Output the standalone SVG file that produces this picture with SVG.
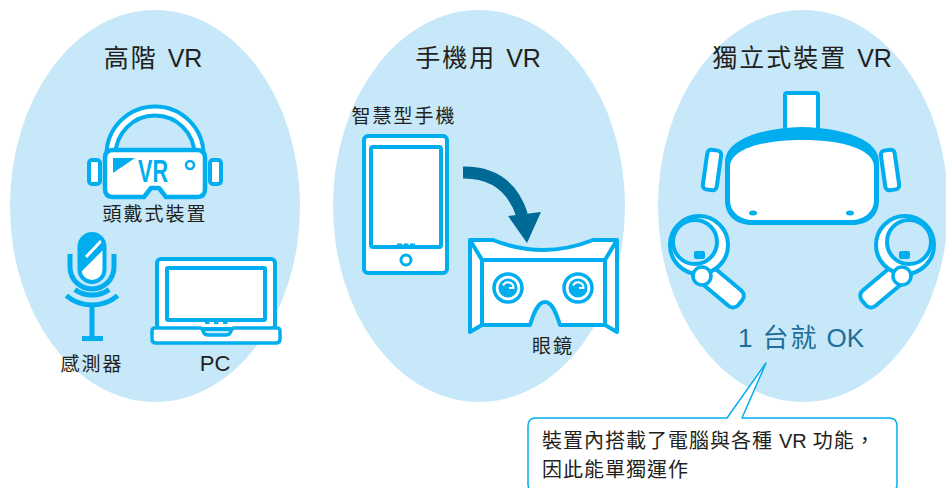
<svg xmlns="http://www.w3.org/2000/svg" width="946" height="488" viewBox="0 0 946 488">
  <style>
    .bg { fill: #C6E8F8; }
    .ln { fill: #FFFFFF; stroke: #00AEEF; stroke-width: 4; stroke-linejoin: round; }
    .nf { fill: none; stroke: #00AEEF; stroke-width: 4; stroke-linecap: butt; stroke-linejoin: round; }
    .bl { fill: #00AEEF; }
    .title { font-family: "Liberation Sans", "Noto Sans CJK TC", sans-serif; font-size: 25px; fill: #231F20; text-anchor: middle; }
    .lbl { font-family: "Liberation Sans", "Noto Sans CJK TC", sans-serif; font-size: 19px; fill: #231F20; text-anchor: middle; }
    .note { font-family: "Liberation Sans", "Noto Sans CJK TC", sans-serif; font-size: 20px; fill: #231F20; }
    .cjk { letter-spacing: 2px; }
    .cjk1 { letter-spacing: 1px; }
  </style>
  <defs>
    <clipPath id="micClip">
      <rect x="79.5" y="234" width="25" height="48" rx="12.5"/>
    </clipPath>
    <g id="controller">
      <!-- handle -->
      <rect x="689" y="274" width="58" height="20" rx="7" class="ln" transform="rotate(40 718 284)"/>
      <!-- tracking ring -->
      <circle cx="699" cy="245" r="29" class="ln"/>
      <circle cx="695" cy="242" r="22" class="nf" style="fill:#C6E8F8"/>
      <rect x="694" y="251" width="11" height="8" rx="2" class="bl"/>
      <circle cx="702" cy="276" r="9" class="ln" style="stroke-width:3.5"/>
    </g>
  </defs>

  <!-- background ovals -->
  <g id="ovals">
    <ellipse class="bg" cx="155" cy="206" rx="145" ry="196"/>
    <ellipse class="bg" cx="479" cy="206" rx="146" ry="196"/>
    <ellipse class="bg" cx="803" cy="206" rx="145" ry="196"/>
  </g>

  <!-- high-end VR -->
  <g id="high-end">
    <text class="title" x="153" y="67"><tspan class="cjk">高階</tspan><tspan dx="10">VR</tspan></text>
    <g id="headset">
      <path d="M111,162 V155 A44,44 0 0 1 199,155 V162" fill="none" stroke="#00AEEF" stroke-width="13"/>
      <path d="M111,162 V155 A44,44 0 0 1 199,155 V162" fill="none" stroke="#FFFFFF" stroke-width="5"/>
      <rect x="89" y="160" width="11" height="24" rx="3" class="ln"/>
      <rect x="210" y="160" width="11" height="24" rx="3" class="ln"/>
      <path d="M113,150 H197 Q205,150 205,158 V189 Q205,197 197,197 H166 L159,188 H151 L144,197 H113 Q105,197 105,189 V158 Q105,150 113,150 Z" class="ln" style="stroke-width:4.5"/>
      <polygon points="113,158 135,158 113,173" class="bl"/>
      <text x="138" y="182" textLength="30" lengthAdjust="spacingAndGlyphs" font-family="Liberation Sans, sans-serif" font-weight="bold" font-size="32" fill="#00AEEF">VR</text>
      <circle cx="190" cy="165" r="4" fill="none" stroke="#00AEEF" stroke-width="2.5"/>
      <text class="lbl cjk" x="155" y="221">頭戴式裝置</text>
    </g>
    <g id="sensor">
      <rect x="79.5" y="234" width="25" height="48" rx="12.5" fill="#FFFFFF"/>
      <g clip-path="url(#micClip)">
        <polygon points="79,232 106,232 106,247 79,274" class="bl"/>
        <path d="M86,257 L102,240" stroke="#FFFFFF" stroke-width="3"/>
      </g>
      <rect x="79.5" y="234" width="25" height="48" rx="12.5" class="nf"/>
      <path d="M70,254 V267 A22,22 0 0 0 114,267 V254" class="nf" style="stroke-width:5"/>
      <path d="M74.8,289.6 A30,30 0 0 0 109.2,289.6" class="nf" style="stroke-width:5"/>
      <path d="M66.3,295.6 A40,40 0 0 0 117.7,295.6" class="nf" style="stroke-width:5"/>
      <line x1="92" y1="306" x2="92" y2="337" stroke="#00AEEF" stroke-width="5"/>
      <rect x="82" y="336" width="21" height="5" class="bl"/>
      <text class="lbl cjk" x="92" y="371">感測器</text>
    </g>
    <g id="pc">
      <rect x="157" y="259" width="118" height="70" rx="4" class="ln"/>
      <rect x="167" y="268" width="98" height="52" rx="1" class="ln"/>
      <rect x="205" y="320.5" width="4.5" height="3.5" class="bl"/>
      <rect x="214" y="320.5" width="4.5" height="3.5" class="bl"/>
      <rect x="223" y="320.5" width="4.5" height="3.5" class="bl"/>
      <path d="M155,328 H200 Q202,328 203,331 L204,333 Q205,335 208,335 H226 Q229,335 230,333 L231,331 Q232,328 234,328 H277 Q280,328 280,331 V339 Q280,343 276,343 H156 Q152,343 152,339 V331 Q152,328 155,328 Z" class="ln" style="stroke-width:3.5"/>
      <text class="lbl" x="215" y="371" style="font-size:22px">PC</text>
    </g>
  </g>

  <!-- mobile VR -->
  <g id="mobile">
    <text class="title" x="478" y="67"><tspan class="cjk">手機用</tspan><tspan dx="10">VR</tspan></text>
    <g id="smartphone">
      <text class="lbl cjk" x="404" y="123">智慧型手機</text>
      <rect x="364" y="136" width="83" height="137" rx="4" class="ln"/>
      <rect x="371" y="147" width="70" height="100" rx="2" class="ln"/>
      <rect x="397" y="243.5" width="5" height="4.5" class="bl"/>
      <rect x="403.5" y="243.5" width="5" height="4.5" class="bl"/>
      <rect x="410" y="243.5" width="5" height="4.5" class="bl"/>
      <circle cx="406" cy="260" r="5" fill="#FFFFFF" stroke="#00AEEF" stroke-width="3"/>
    </g>
    <g id="cardboard">
      <path d="M470,240 H493 Q543,260 593,240 H617 V332 L605,325 H560 C556,312 552,302 545,302 C538,302 534,312 530,325 H482 L470,332 Z" class="ln"/>
      <path d="M470,240 L482,260 H605 L617,240 M482,260 V325 M605,260 V325" class="nf"/>
      <circle cx="508" cy="288" r="14" class="ln" style="stroke-width:3.5"/>
      <circle cx="508" cy="288" r="9.5" class="bl"/>
      <path d="M503,285.5 A5.5,5.5 0 0 1 513.5,288 L509,288" fill="none" stroke="#FFFFFF" stroke-width="2"/>
      <circle cx="578" cy="288" r="14" class="ln" style="stroke-width:3.5"/>
      <circle cx="578" cy="288" r="9.5" class="bl"/>
      <path d="M573,285.5 A5.5,5.5 0 0 1 583.5,288 L579,288" fill="none" stroke="#FFFFFF" stroke-width="2"/>
      <text class="lbl cjk" x="553" y="353">眼鏡</text>
    </g>
  </g>

  <!-- connector: phone goes into the viewer -->
  <g id="connectors">
    <path d="M463,172.5 Q508,172 522,215" fill="none" stroke="#006A96" stroke-width="12"/>
    <polygon points="508,216 541,212 527,243" fill="#006A96"/>
  </g>

  <!-- standalone VR -->
  <g id="standalone">
    <text class="title" x="802" y="67"><tspan class="cjk">獨立式裝置</tspan><tspan dx="10">VR</tspan></text>
    <g id="standalone-headset">
      <rect x="785" y="93" width="33" height="42" rx="2" class="ln"/>
      <rect x="705" y="150" width="14" height="40" rx="4" class="ln" transform="rotate(8 712 170)"/>
      <rect x="883" y="150" width="14" height="40" rx="4" class="ln" transform="rotate(-8 890 170)"/>
      <path d="M725,162 C725,140 760,128 802,127 C845,128 879,140 879,162 V200 C879,216 868,225 852,225 H752 C736,225 725,216 725,200 Z" class="bl"/>
      <path d="M730,167 C730,150 760,140 802,140 C845,140 874,150 874,167 V200 C874,212 864,220 851,220 H753 C740,220 730,212 730,200 Z" fill="#FFFFFF"/>
      <ellipse cx="753" cy="213" rx="4" ry="2.5" class="bl"/>
      <ellipse cx="850" cy="213" rx="4" ry="2.5" class="bl"/>
    </g>
    <g id="left-controller">
      <use href="#controller"/>
    </g>
    <g id="right-controller">
      <use href="#controller" transform="translate(1604 0) scale(-1 1)"/>
    </g>
    <text x="801" y="347" text-anchor="middle" font-family="Liberation Sans, Noto Sans CJK TC, sans-serif" font-size="26" fill="#1F6E99">1<tspan dx="10" class="cjk">台就</tspan><tspan dx="8">OK</tspan></text>
  </g>

  <!-- callout -->
  <g id="callout">
    <path d="M536,418 H727 L766,363 L742,418 H889 Q897,418 897,426 V484 Q897,492 889,492 H536 Q528,492 528,484 V426 Q528,418 536,418 Z" fill="#FFFFFF" stroke="#00AEEF" stroke-width="1.5" stroke-linejoin="round"/>
    <text class="note" x="542" y="448"><tspan class="cjk1">裝置內搭載了電腦與各種</tspan><tspan dx="6">VR</tspan><tspan dx="6" class="cjk1">功能，</tspan></text>
    <text class="note cjk1" x="542" y="477">因此能單獨運作</text>
  </g>
</svg>
